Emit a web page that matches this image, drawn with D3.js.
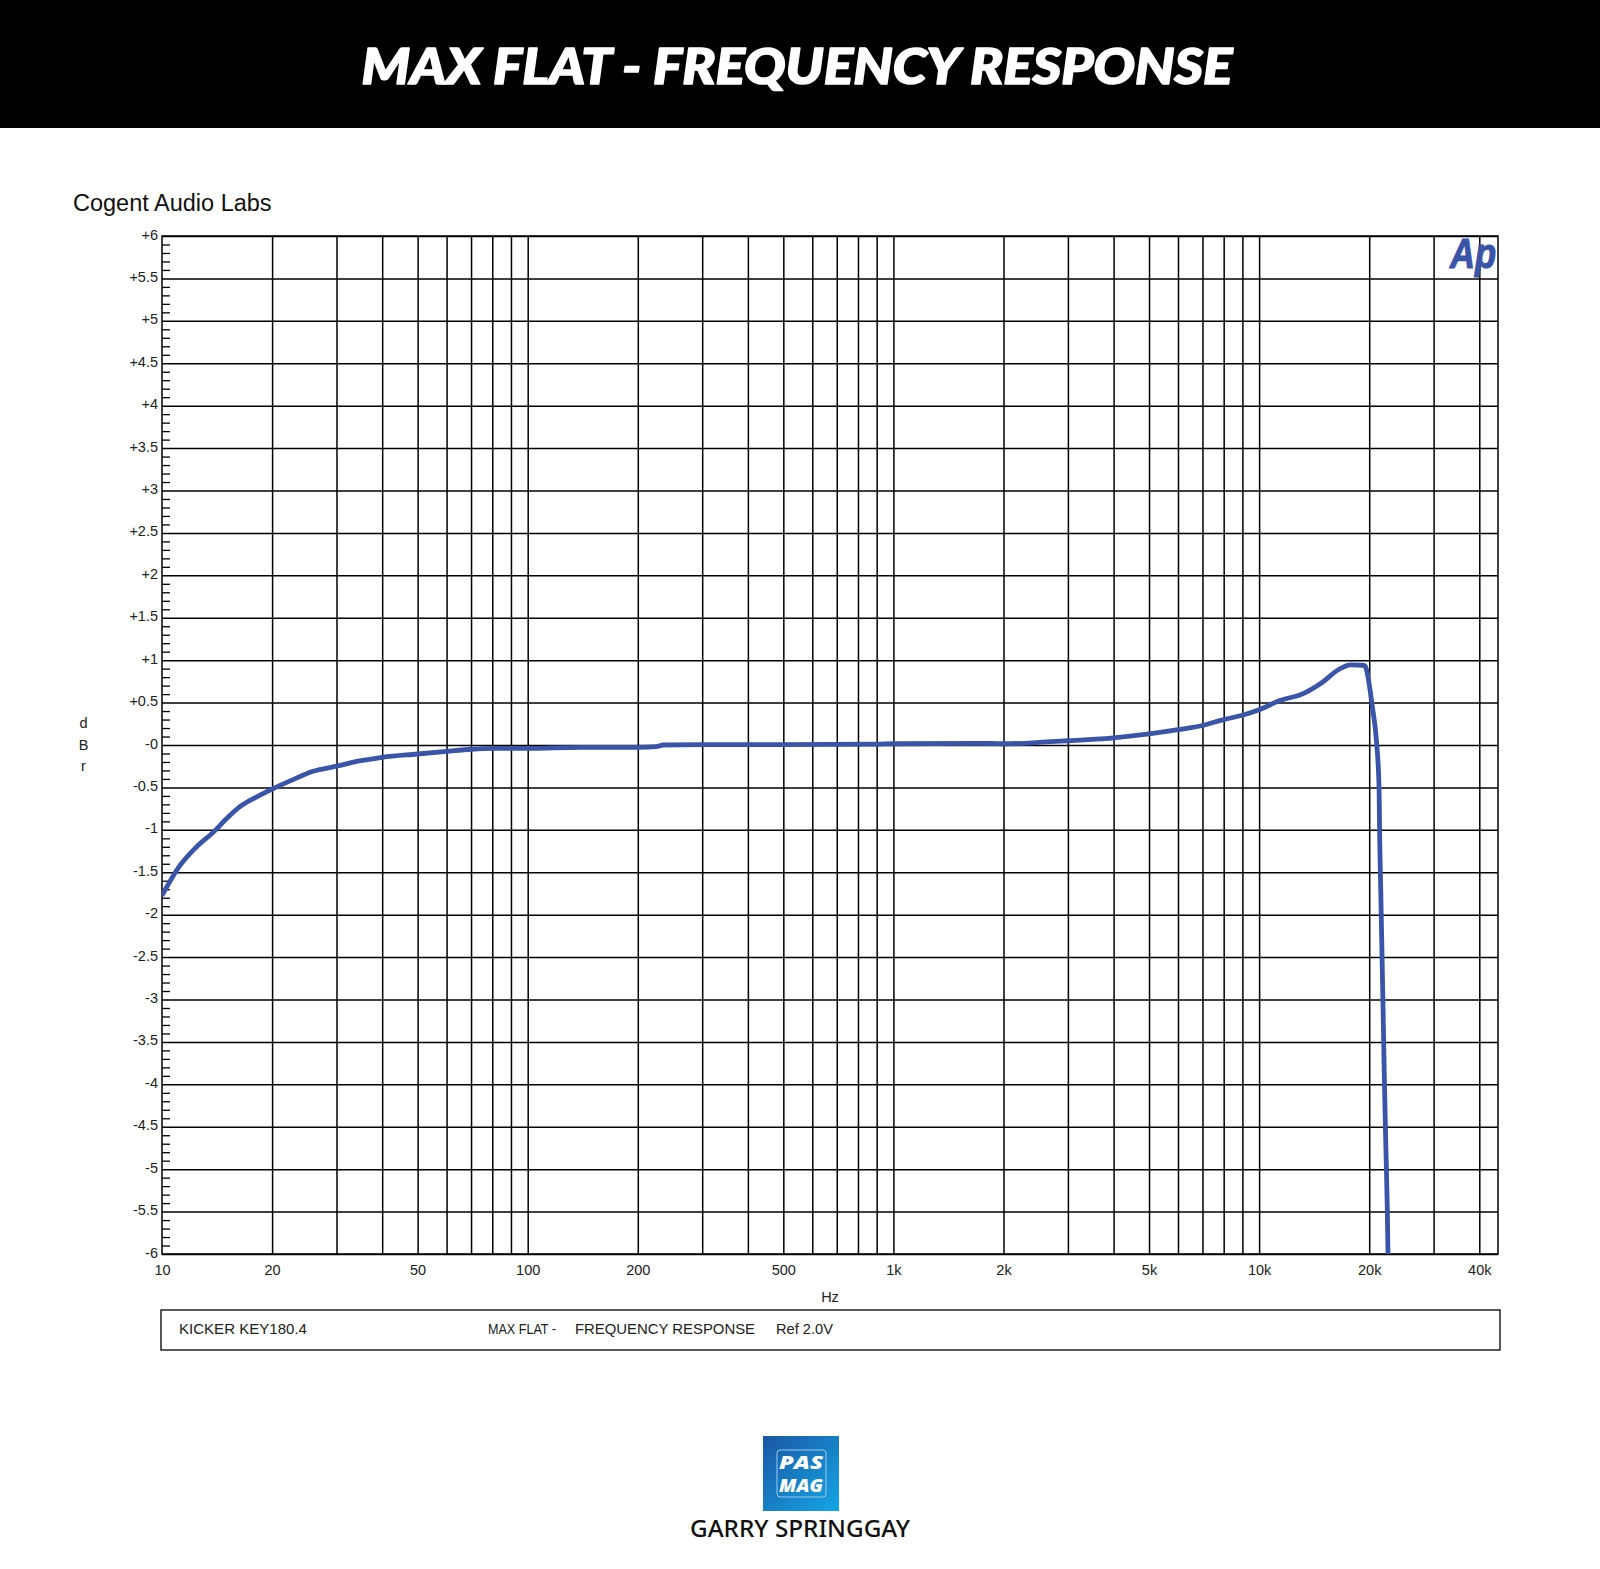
<!DOCTYPE html>
<html>
<head>
<meta charset="utf-8">
<script src="https://cdn.jsdelivr.net/npm/d3@7"></script>
<style>
  html, body { margin: 0; padding: 0; background: #fff; }
  svg { display: block; }
</style>
</head>
<body>
<svg id="chart" width="1600" height="1569"></svg>
<script>
// ---------------- data ----------------
const freqHz = [10, 11.2, 12.4, 13.8, 15, 16.3, 18, 20, 22.5, 25.9, 30, 35, 40, 50, 60, 70, 80, 100, 140, 200, 225, 235, 300, 500, 900, 1000, 1700, 2000, 2400, 2700, 3000, 4000, 5000, 6000, 7000, 8000, 9000, 10000, 11400, 13100, 14900, 16500, 17800, 19150, 19500, 19770, 20400, 20950, 21280, 21370, 21510, 21640, 21820, 21990, 22190, 22410, 22510];
const levelDbr = [-1.775, -1.42, -1.205, -1.03, -0.87, -0.73, -0.62, -0.52, -0.42, -0.31, -0.25, -0.185, -0.145, -0.106, -0.075, -0.05, -0.04, -0.04, -0.027, -0.027, -0.02, 0.0, 0.005, 0.005, 0.01, 0.015, 0.02, 0.015, 0.025, 0.04, 0.05, 0.085, 0.13, 0.18, 0.23, 0.30, 0.35, 0.415, 0.525, 0.60, 0.74, 0.89, 0.945, 0.94, 0.93, 0.84, 0.45, 0.03, -0.5, -1.13, -1.72, -2.30, -3.09, -3.88, -4.66, -5.45, -6.0];

const gridFreqs = [20, 30, 40, 50, 60, 70, 80, 90, 100, 200, 300, 400, 500, 600, 700, 800, 900, 1000, 2000, 3000, 4000, 5000, 6000, 7000, 8000, 9000, 10000, 20000, 30000, 40000];
const xTickValues = [10, 20, 50, 100, 200, 500, 1000, 2000, 5000, 10000, 20000, 40000];
const xTickLabels = ["10", "20", "50", "100", "200", "500", "1k", "2k", "5k", "10k", "20k", "40k"];
const yMajorTicks = [6, 5.5, 5, 4.5, 4, 3.5, 3, 2.5, 2, 1.5, 1, 0.5, 0, -0.5, -1, -1.5, -2, -2.5, -3, -3.5, -4, -4.5, -5, -5.5, -6];
const xDomain = [10, 45000];
const yDomain = [-6, 6];

const titleText = "MAX FLAT - FREQUENCY RESPONSE";
const subtitleText = "Cogent Audio Labs";
const legendDevice = "KICKER  KEY180.4";
const legendTitle = "MAX FLAT  -";
const legendTitle2 = "FREQUENCY RESPONSE";
const legendRef = "Ref 2.0V";
const creditText = "GARRY SPRINGGAY";

// ---------------- layout ----------------
const svg = d3.select("#chart");
const W = 1600;
const plot = { left: 162, right: 1498, top: 236, bottom: 1254 };
const lineColor = "#3a55a7";
const font = "'Liberation Sans', Arial, sans-serif";

// header band
svg.append("rect").attr("x", 0).attr("y", 0).attr("width", W).attr("height", 128).attr("fill", "#000");
svg.append("text")
  .attr("x", 797).attr("y", 84)
  .attr("text-anchor", "middle")
  .attr("fill", "#fff")
  .attr("stroke", "#fff").attr("stroke-width", 1.6).attr("stroke-linejoin", "round")
  .attr("font-family", "Lato, 'Open Sans', sans-serif")
  .attr("font-weight", 900)
  .attr("font-style", "italic")
  .attr("font-size", 50)
  .attr("textLength", 871)
  .attr("lengthAdjust", "spacingAndGlyphs")
  .text(titleText);

// subtitle
svg.append("text")
  .attr("x", 73).attr("y", 211)
  .attr("font-family", font).attr("font-size", 23.5).attr("fill", "#111")
  .text(subtitleText);

const x = d3.scaleLog().domain(xDomain).range([plot.left, plot.right]);
const y = d3.scaleLinear().domain(yDomain).range([plot.bottom, plot.top]);

const g = svg.append("g");

// horizontal gridlines
g.append("g")
  .attr("transform", `translate(${plot.left},0)`)
  .call(d3.axisLeft(y).tickValues(yMajorTicks).tickSize(-(plot.right - plot.left)).tickFormat(""))
  .call(a => a.select(".domain").remove())
  .call(a => a.selectAll("line").attr("stroke", "#000").attr("stroke-width", 1.5));

// minor ticks (every 0.1 dB) inside left axis
const minorTicks = d3.range(-60, 61).map(v => v / 10).filter(v => Math.abs(Math.round(v * 2) - v * 2) > 1e-6);
g.append("g")
  .attr("transform", `translate(${plot.left},0)`)
  .call(d3.axisLeft(y).tickValues(minorTicks).tickSize(-8).tickFormat(""))
  .call(a => a.select(".domain").remove())
  .call(a => a.selectAll("line").attr("stroke", "#000").attr("stroke-width", 1.3));

// vertical gridlines
g.append("g")
  .attr("transform", `translate(0,${plot.bottom})`)
  .call(d3.axisBottom(x).tickValues(gridFreqs).tickSize(-(plot.bottom - plot.top)).tickFormat(""))
  .call(a => a.select(".domain").remove())
  .call(a => a.selectAll("line").attr("stroke", "#000").attr("stroke-width", 1.5));

// frame
g.append("rect")
  .attr("x", plot.left).attr("y", plot.top)
  .attr("width", plot.right - plot.left).attr("height", plot.bottom - plot.top)
  .attr("fill", "none").attr("stroke", "#000").attr("stroke-width", 1.5);

// y labels
const fmtY = v => v > 0 ? "+" + v : (v === 0 ? "-0" : String(v));
g.append("g")
  .attr("transform", `translate(${plot.left},0)`)
  .call(d3.axisLeft(y).tickValues(yMajorTicks).tickSize(0).tickPadding(4).tickFormat(fmtY))
  .call(a => a.select(".domain").remove())
  .call(a => a.selectAll("text")
    .attr("font-family", font).attr("font-size", 14.5).attr("fill", "#222").attr("dy", "3px"));

// x labels
g.append("g")
  .attr("transform", `translate(0,${plot.bottom})`)
  .call(d3.axisBottom(x).tickValues(xTickValues).tickSize(0).tickPadding(11).tickFormat((d, i) => xTickLabels[i]))
  .call(a => a.select(".domain").remove())
  .call(a => a.selectAll("text")
    .attr("font-family", font).attr("font-size", 14.5).attr("fill", "#222"));

// axis titles
svg.append("text").attr("x", (plot.left + plot.right) / 2).attr("y", 1302)
  .attr("text-anchor", "middle").attr("font-family", font).attr("font-size", 14.5).attr("fill", "#222").text("Hz");
["d", "B", "r"].forEach((ch, i) => {
  svg.append("text").attr("x", 83.5).attr("y", 728 + i * 21.5)
    .attr("text-anchor", "middle").attr("font-family", font).attr("font-size", 14.5).attr("fill", "#222").text(ch);
});

// clip and curve
svg.append("clipPath").attr("id", "plotClip")
  .append("rect").attr("x", plot.left).attr("y", plot.top)
  .attr("width", plot.right - plot.left).attr("height", plot.bottom - plot.top);

const pts = freqHz.map((f, i) => [f, levelDbr[i]]);
const line = d3.line().x(d => x(d[0])).y(d => y(d[1])).curve(d3.curveMonotoneX);
svg.append("path")
  .attr("clip-path", "url(#plotClip)")
  .attr("d", line(pts))
  .attr("fill", "none")
  .attr("stroke", lineColor)
  .attr("stroke-width", 4.8)
  .attr("stroke-linejoin", "round");

// Ap logo
svg.append("text")
  .attr("x", 1450).attr("y", 268)
  .attr("font-family", font).attr("font-weight", "bold").attr("font-style", "italic")
  .attr("font-size", 42).attr("fill", lineColor)
  .attr("stroke", lineColor).attr("stroke-width", 1.2)
  .attr("textLength", 46).attr("lengthAdjust", "spacingAndGlyphs")
  .text("Ap");

// legend box
svg.append("rect").attr("x", 161).attr("y", 1310).attr("width", 1339).attr("height", 40)
  .attr("fill", "none").attr("stroke", "#000").attr("stroke-width", 1.3);
const legendText = (tx, xx, len) => svg.append("text")
  .attr("x", xx).attr("y", 1334)
  .attr("font-family", font).attr("font-size", 14.5).attr("fill", "#222")
  .attr("textLength", len).attr("lengthAdjust", "spacingAndGlyphs")
  .text(tx);
legendText(legendDevice, 179, 128);
legendText(legendTitle, 488, 68);
legendText(legendTitle2, 575, 180);
legendText(legendRef, 776, 57);

// PAS MAG logo
const defs = svg.append("defs");
const grad = defs.append("linearGradient").attr("id", "pasGrad")
  .attr("x1", "0%").attr("y1", "0%").attr("x2", "100%").attr("y2", "100%");
grad.append("stop").attr("offset", "0%").attr("stop-color", "#1b57a3");
grad.append("stop").attr("offset", "100%").attr("stop-color", "#14a6e6");
svg.append("rect").attr("x", 763).attr("y", 1436).attr("width", 76).attr("height", 75).attr("fill", "url(#pasGrad)");
svg.append("rect").attr("x", 777).attr("y", 1450).attr("width", 49).attr("height", 47).attr("rx", 3)
  .attr("fill", "none").attr("stroke", "#9cc8ee").attr("stroke-width", 1);
const logoStyle = sel => sel
  .attr("font-family", "'Open Sans', sans-serif").attr("font-weight", 800).attr("font-style", "italic")
  .attr("font-size", 17).attr("fill", "#fff").attr("text-anchor", "middle")
  .attr("textLength", 44).attr("lengthAdjust", "spacingAndGlyphs");
svg.append("text").attr("x", 801).attr("y", 1469).call(logoStyle).text("PAS");
svg.append("text").attr("x", 801).attr("y", 1492).call(logoStyle).text("MAG");

svg.append("text").attr("x", 800).attr("y", 1537).attr("text-anchor", "middle")
  .attr("font-family", "'Noto Sans', 'DejaVu Sans', sans-serif").attr("font-weight", 500)
  .attr("font-size", 24).attr("fill", "#111")
  .attr("textLength", 220).attr("lengthAdjust", "spacingAndGlyphs")
  .text(creditText);
</script>
</body>
</html>
